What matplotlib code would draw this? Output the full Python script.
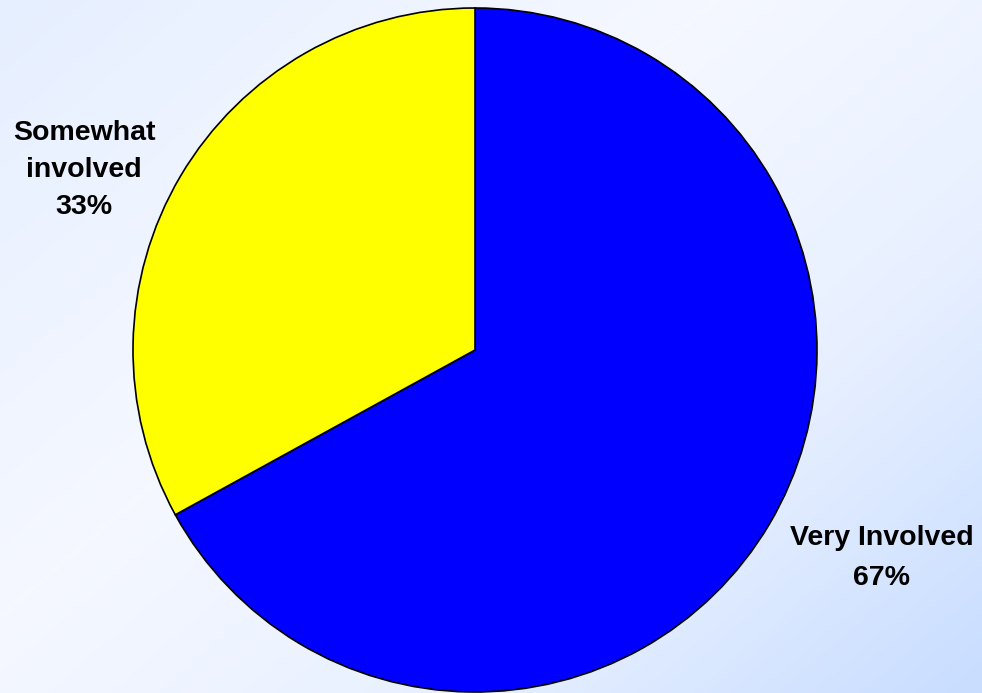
"""Pie chart of involvement levels."""

import numpy as np
import matplotlib.pyplot as plt
from matplotlib.colors import LinearSegmentedColormap

labels = ['Very Involved', 'Somewhat\ninvolved']
shares = [67, 33]
colors = ['#0000ff', '#ffff00']

plt.rcParams['font.family'] = ['Liberation Sans', 'DejaVu Sans']

W, H = 982, 693
fig = plt.figure(figsize=(W / 100, H / 100), dpi=100)

# soft diagonal background: light blue corners, near-white middle
bg = fig.add_axes([0, 0, 1, 1])
yy, xx = np.mgrid[0:1:200j, 0:1:300j]
t = (xx * 0.55 + yy * 0.45)
bg_cmap = LinearSegmentedColormap.from_list(
    'bg', [(0.0, '#e6efff'), (0.4, '#f5f8ff'), (0.7, '#e8f0ff'), (1.0, '#c8ddff')])
bg.imshow(t, cmap=bg_cmap, aspect='auto', extent=[0, 1, 0, 1], origin='upper')
bg.axis('off')

# pie centred at (475, 350) px with radius 342 px
cx, cy, r = 475, 350, 342
ax = fig.add_axes([(cx - r) / W, (H - cy - r) / H, 2 * r / W, 2 * r / H])
ax.pie(shares, colors=colors, startangle=90, counterclock=False,
       wedgeprops=dict(edgecolor='black', linewidth=1.2))
ax.set_xlim(-1, 1)
ax.set_ylim(-1, 1)
ax.set_aspect('equal')
ax.axis('off')

label_px = [(882, 558), (84, 170)]
spacing = [1.72, 1.55]
for lab, val, (px, py), ls in zip(labels, shares, label_px, spacing):
    fig.text(px / W, 1 - py / H, f'{lab}\n{val}%', ha='center', va='center',
             fontsize=20.5, fontweight='bold', linespacing=ls)

fig.savefig('out.png', dpi=100)
